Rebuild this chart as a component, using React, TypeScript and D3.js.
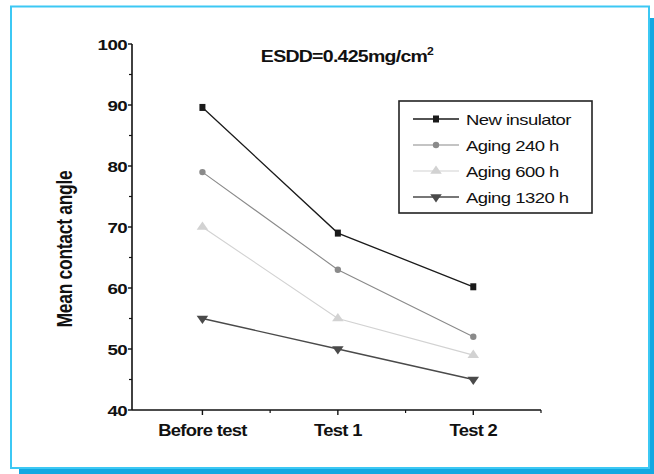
import React from "react";
import * as d3 from "d3";

const categories = ["Before test", "Test 1", "Test 2"];
const seriesNames = ["New insulator", "Aging 240 h", "Aging 600 h", "Aging 1320 h"];
const newInsulator = [89.6, 69, 60.2];
const aging240 = [79, 63, 52];
const aging600 = [70, 55, 49];
const aging1320 = [55, 50, 45];
const yTicks = [40, 50, 60, 70, 80, 90, 100];
const yMinorTicks = [45, 55, 65, 75, 85, 95];
const xMinorTicks = [0.5, 1.5, 2.5];

const W = 654;
const H = 474;
const FONT = "'Liberation Sans', Arial, Helvetica, sans-serif";
const SX = 1.3;

const seriesData = [newInsulator, aging240, aging600, aging1320];
const seriesStyle = [
  { color: "#1a1a1a", width: 1.3, marker: "square" },
  { color: "#8a8a8a", width: 1.1, marker: "circle" },
  { color: "#d2d2d2", width: 1.1, marker: "triangle" },
  { color: "#4a4a4a", width: 1.4, marker: "triangleDown" },
];

function Marker({ type, x, y, color }: { type: string; x: number; y: number; color: string }) {
  if (type === "square") {
    return <rect x={x - 3} y={y - 3.5} width={6} height={7} fill={color} />;
  }
  if (type === "circle") {
    return <circle cx={x} cy={y} r={3.2} fill={color} />;
  }
  const p = d3.symbol().type(d3.symbolTriangle).size(40)();
  const rot = type === "triangleDown" ? 180 : 0;
  return (
    <path
      d={p || ""}
      transform={`translate(${x},${y}) scale(1.2,1) rotate(${rot})`}
      fill={color}
    />
  );
}

function SText({
  x,
  y,
  children,
  size,
  weight = "normal",
  anchor = "start",
  sx = SX,
  ls = 0,
}: any) {
  return (
    <text
      transform={`translate(${x},${y}) scale(${sx},1)`}
      fontFamily={FONT}
      fontSize={size}
      fontWeight={weight}
      textAnchor={anchor}
      letterSpacing={ls}
      fill="#111"
    >
      {children}
    </text>
  );
}

export default function App() {
  const x = d3.scaleLinear().domain([-0.52, 2.5]).range([132, 541]);
  const y = d3.scaleLinear().domain([40, 100]).range([410, 44]);
  const line = d3
    .line<number>()
    .x((_, i) => x(i))
    .y((d) => y(d));

  const legendX = 399;
  const legendY = 101;
  const legendRows = d3.scaleLinear().domain([0, 3]).range([119, 197]);

  return (
    <svg
      width={W}
      height={H}
      style={{ position: "absolute", left: 0, top: 0, background: "#fff" }}
    >
      {/* frame */}
      <rect x={19} y={18} width={635} height={456} fill="#12a8e2" />
      <rect x={11} y={6.5} width={638} height={461.5} fill="#fff" stroke="#3cc8f4" strokeWidth={2} />

      {/* axes */}
      <line x1={x(-0.52)} x2={x(-0.52)} y1={y(100)} y2={y(40)} stroke="#111" strokeWidth={1.6} />
      <line x1={x(-0.52)} x2={x(2.5)} y1={y(40)} y2={y(40)} stroke="#111" strokeWidth={1.6} />

      {yTicks.map((t) => (
        <g key={"yt" + t}>
          <line x1={x(-0.52) - 4} x2={x(-0.52)} y1={y(t)} y2={y(t)} stroke="#111" strokeWidth={1.4} />
          <SText x={x(-0.52) - 5} y={y(t) + 5.5} size={15} weight="bold" anchor="end" sx={1.25} ls={-0.5}>
            {t}
          </SText>
        </g>
      ))}
      {yMinorTicks.map((t) => (
        <line key={"ym" + t} x1={x(-0.52) - 3} x2={x(-0.52)} y1={y(t)} y2={y(t)} stroke="#111" strokeWidth={1.2} />
      ))}
      {categories.map((c, i) => (
        <g key={c}>
          <line x1={x(i)} x2={x(i)} y1={y(40)} y2={y(40) + 5} stroke="#111" strokeWidth={1.4} />
          <SText x={x(i)} y={y(40) + 26} size={16} weight="bold" anchor="middle" sx={1.15} ls={-0.6}>
            {c}
          </SText>
        </g>
      ))}
      {xMinorTicks.map((t) => (
        <line key={"xm" + t} x1={x(t)} x2={x(t)} y1={y(40)} y2={y(40) + 3} stroke="#111" strokeWidth={1.2} />
      ))}

      {/* axis title */}
      <text
        transform={`translate(72,249) scale(1.3,1) rotate(-90)`}
        fontFamily={FONT}
        fontSize={17.5}
        textAnchor="middle"
        fill="#111"
        style={{ fontWeight: 600 }}
        letterSpacing={-0.3}
      >
        Mean contact angle
      </text>

      {/* chart title */}
      <text
        transform={`translate(347,62) scale(1.22,1)`}
        fontFamily={FONT}
        fontSize={16}
        fontWeight="bold"
        textAnchor="middle"
        letterSpacing={-0.6}
        fill="#111"
      >
        ESDD=0.425mg/cm
        <tspan fontSize={10} dy={-7}>
          2
        </tspan>
      </text>

      {/* series */}
      {seriesData.map((s, k) => (
        <g key={"s" + k}>
          <path d={line(s) || ""} fill="none" stroke={seriesStyle[k].color} strokeWidth={seriesStyle[k].width} />
          {s.map((v, i) => (
            <Marker key={i} type={seriesStyle[k].marker} x={x(i)} y={y(v)} color={seriesStyle[k].color} />
          ))}
        </g>
      ))}

      {/* legend */}
      <rect x={legendX} y={legendY} width={193} height={112} fill="#fff" stroke="#222" strokeWidth={1.6} />
      {seriesNames.map((n, k) => {
        const ry = legendRows(k);
        return (
          <g key={n}>
            <line x1={413} x2={459} y1={ry} y2={ry} stroke={seriesStyle[k].color} strokeWidth={seriesStyle[k].width} />
            <Marker type={seriesStyle[k].marker} x={436} y={ry} color={seriesStyle[k].color} />
            <SText x={466} y={ry + 5.5} size={14} sx={1.32} ls={-0.4}>
              {n}
            </SText>
          </g>
        );
      })}
    </svg>
  );
}
